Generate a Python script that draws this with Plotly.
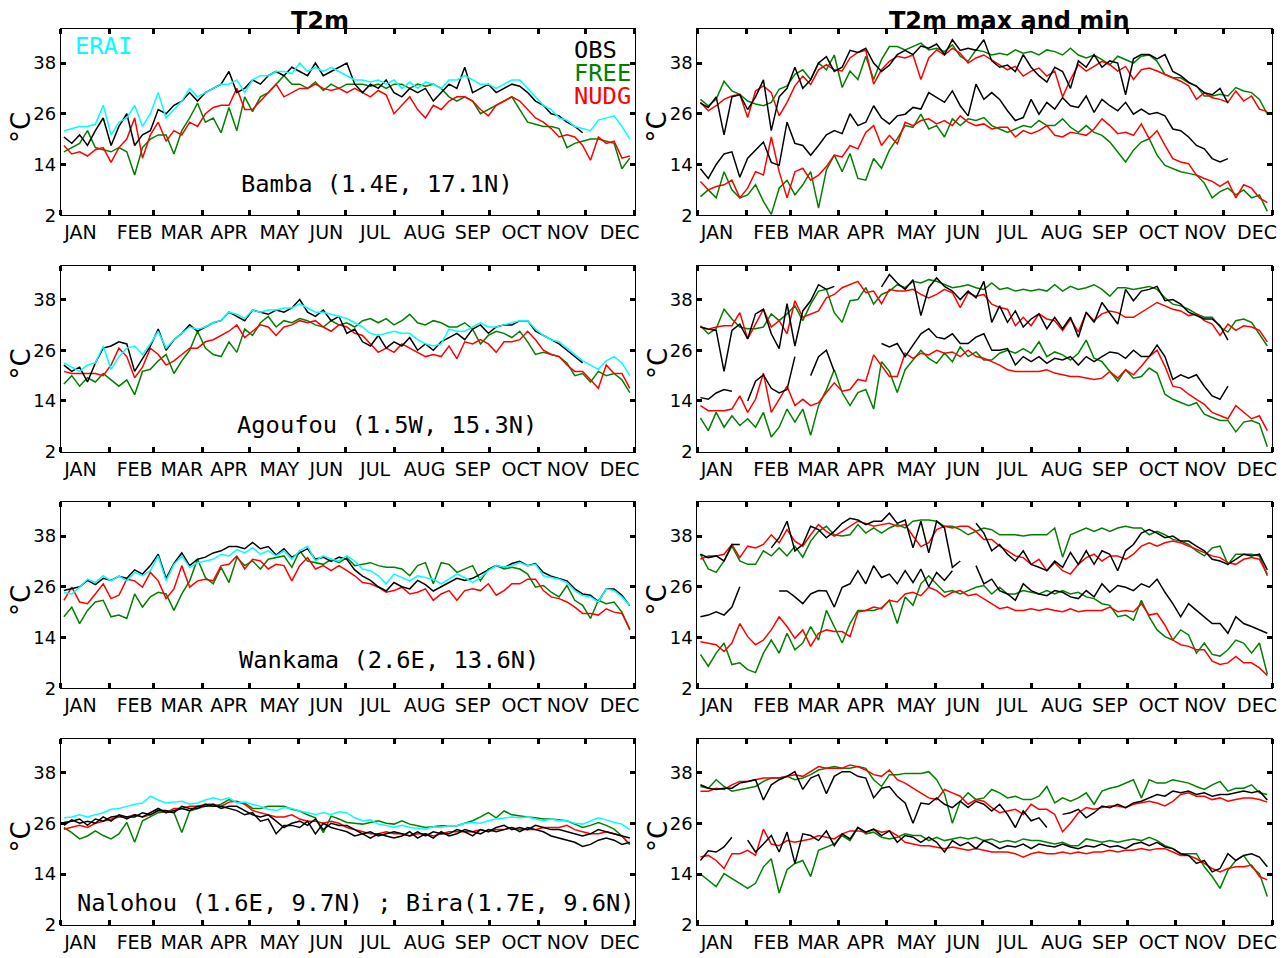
import plotly.graph_objects as go

# ---------------------------------------------------------------------------
# Daily series are stored as 5-day means (73 bins, centred on day 5k+2)
# ---------------------------------------------------------------------------
N_BINS = 73
day = [5 * k + 2 for k in range(N_BINS)]

month_edges = [0, 31, 59, 90, 120, 151, 181, 212, 243, 273, 304, 334, 365]
month_label_pos = [12.5, 47, 77, 107, 139, 169, 200, 231.5, 262, 293, 322.5, 355.5]
month_names = ["JAN", "FEB", "MAR", "APR", "MAY", "JUN",
               "JUL", "AUG", "SEP", "OCT", "NOV", "DEC"]
temp_ticks = [2, 14, 26, 38]

# ---------------- T2m daily mean ----------------
bamba_erai = [22, 22.5, 23, 23, 23.5, 28, 21, 24, 25, 28,
              23, 26, 31, 25, 27, 29, 32, 30, 31, 32,
              33, 33, 34, 31, 34, 35, 35, 36, 36, 35.5,
              38, 36, 37, 36, 37, 36, 35, 34, 34, 33.5,
              34, 33, 34, 32, 33.5, 32, 33.5, 33, 32, 34,
              34, 35, 34, 33, 33, 32, 33, 34, 34, 32,
              30, 28, 27, 25, 24.5, 23, 22.5, 22, 24.5, 25,
              25.5, 23, 20]
bamba_obs = [20.5, 19, 21, 18.5, 22, 25, 18.5, 23, 26, 18.5,
             21, 22, 27, 26, 28, 29, 31, 29, 31, 32,
             33, 36, 31, 32, 34, 33, 35, 36, 35, 37,
             36, 35, 38, 35, 36, 37, 38, 33, 31, 33,
             32, 34, 31, 30, 32, 31, 32, 29, 31, 33,
             32, 37, 31, 32, 33, 31, 32, 33, 32.5, 31,
             29, 28, 26, 25.5, 24, 23, 21.5, None, None, None,
             None, None, None]
bamba_free = [17, 18, 19, 22, 18, 17.5, 17, 18, 17, 11.5,
              18, 20, 21, 21, 16.5, 22, 25, 28.5, 24, 25,
              21.5, 27.5, 22, 30, 26.5, 30, 31, 33, 35, 33,
              33, 32, 33.5, 31.5, 33, 32, 33, 33, 33, 32.5,
              33, 32, 33, 33, 32, 33, 32.5, 33, 32, 30,
              29, 30, 29, 26, 27, 28, 29, 30, 27, 24,
              23.5, 23, 23, 22.5, 18, 19, 19.5, 20, 20, 19.5,
              19, 13, 15.5]
bamba_nudg = [18.5, 16.5, 17, 16, 17.5, 18, 14.5, 18, 20, 25,
              15.5, 21, 24, 19.5, 22, 21, 24, 23, 26, 27.5,
              28, 28, 32, 27, 27, 29, 31, 33, 30, 31,
              32, 32, 33, 32, 31.5, 32, 31, 32, 31, 30,
              31.5, 30.5, 26, 28, 30, 27, 25, 28, 27, 29,
              30, 30, 29, 27, 25.5, 28, 29, 30, 29, 27,
              25, 24, 22.5, 20.5, 21, 20.5, 18.5, 15, 20.5, 19,
              19.5, 15.5, 16]

agoufou_erai = [23, 22, 21, 22.5, 23, 27, 21.5, 24.5, 26.5, 27,
                25, 27.5, 30.5, 26.5, 28.5, 30, 31.5, 31, 31.5, 32.5,
                33, 35, 34.5, 33.5, 35.5, 35, 35.5, 35.5, 36, 36,
                37, 36, 35, 35, 34.5, 34, 33.5, 32.5, 31.5, 30,
                29.5, 30, 30.5, 30, 30, 28.5, 27.5, 27, 27.5, 31,
                30.5, 30.5, 31.5, 32.5, 31.5, 31.5, 32, 32.5, 33, 33,
                31, 29.5, 28.5, 28, 26.5, 25, 23.5, 22.5, 21.5, 23.5,
                24.5, 23, 20]
agoufou_obs = [22.5, 21, 22, 18.5, 23, 26.5, 27, 28, 27.5, 21,
               24, 27, 31, 26, 28.5, 30, 32, 30.5, 31.5, 32.5,
               33, 35, 34, 33, 35.5, 35, 34.5, 35.5, 35, 36,
               38, 35, 34, 35.5, 33, 34, 30, 31, 28, 27,
               29.5, 26.5, 28, 27, 29, 26, 27.5, 26, 28, 29,
               30, 28.5, 31, 32, 30, 31.5, 32, 32, 33, 33,
               30.5, 29.5, 28.5, 27.5, 26, 24.5, 23, None, None, None,
               None, None, None]
agoufou_free = [18, 20, 17.5, 19.5, 18.5, 20.5, 19, 17.5, 19, 15.5,
                21, 21.5, 23.5, 25, 20.5, 23.5, 26, 30.5, 26.5, 25,
                24.5, 28, 25.5, 31, 29.5, 32.5, 34, 31.5, 33, 32.5,
                33.5, 33, 32, 31.5, 33, 32, 32.5, 31.5, 33, 33.5,
                32.5, 33.5, 32, 33, 34.5, 32.5, 32, 33, 32.5, 31.5,
                31.5, 32.5, 31, 27.5, 29.5, 30.5, 30, 29, 30.5, 28,
                25, 25.5, 25, 24.5, 23, 20, 20.5, 18.5, 21, 20,
                20.5, 19, 16]
agoufou_nudg = [21, 20.5, 20.5, 20.5, 20.5, 20, 22.5, 26.5, 24.5, 19.5,
                22, 26.5, 25, 22.5, 23.5, 25, 26.5, 26.5, 28, 28.5,
                29.5, 30.5, 32, 29, 30.5, 32, 31.5, 29.5, 31.5, 32,
                33, 32.5, 33, 31.5, 30.5, 32, 31.5, 30, 29.5, 27.5,
                25.5, 26.5, 25.5, 27.5, 26.5, 25.5, 24.5, 25, 24.5, 27,
                24, 28, 27.5, 28.5, 27.5, 25.5, 28, 28, 28.5, 30.5,
                28.5, 26, 25, 24.5, 22.5, 21, 21, 19, 17, 22.5,
                20.5, 20.5, 17]

wankama_erai = [24.7, 24.3, 25.9, 27.8, 27, 28.6, 27.4, 28.6, 27.4, 29.4,
                28.6, 29.8, 33.3, 27.4, 31.3, 33.3, 30.6, 31.7, 32.1, 32.5,
                33.7, 33.3, 34.8, 34, 35.2, 33.7, 34.5, 33.3, 34.5, 32.5,
                34.5, 35.6, 32.1, 33.3, 32.5, 32.1, 33.3, 32.1, 30.2, 29.8,
                28.6, 26.7, 29, 28.2, 27.4, 28.6, 28.2, 27.8, 26.7, 27.8,
                29, 28.2, 27, 28.2, 29.8, 31, 30.6, 31, 31.7, 31,
                31.3, 28.6, 28.2, 27.8, 27, 25.1, 23.9, 23.6, 22.4, 25.5,
                25.1, 23.6, 21.6]
wankama_obs = [25.1, 25.5, 26, 27.5, 26.5, 28, 27.5, 28.5, 28, 30,
               29, 31, 33.7, 28, 31.5, 34, 31, 32.5, 33, 34,
               34.5, 35.5, 35.5, 35, 36.5, 35, 35.5, 33.5, 35, 33,
               34, 35, 32.5, 33, 32, 33, 32.5, 30, 28.5, 27.5,
               26, 25, 27, 26, 25.5, 27.5, 26.5, 25, 26, 27,
               28, 27.5, 28, 29, 30, 31, 30.5, 31.5, 32, 31,
               31.5, 29.4, 28.5, 28, 27.4, 25.5, 24.3, 24, 22.5, 25.5,
               25.5, 24, 21.5]
wankama_free = [18.9, 21.2, 17.3, 20.4, 22.4, 22.8, 18.9, 19.3, 18.5, 24.3,
                21.2, 23.6, 24.7, 24.3, 20.4, 24.3, 27.4, 32.5, 28.2, 26.7,
                30.6, 27, 32.9, 31, 32.1, 30.2, 32.5, 32.9, 33.3, 30.6,
                34.5, 32.1, 31.7, 31.3, 32.5, 31.7, 32.9, 31, 31.3, 31.7,
                31, 30.6, 30.6, 30.2, 28.6, 31, 31.7, 26.7, 31.7, 31.3,
                29.4, 30.2, 31, 27.4, 30.2, 31, 30.2, 30.6, 30.2, 29,
                25.9, 26.3, 24.7, 23.6, 26.3, 22.8, 21.6, 18.5, 22.8, 22,
                22.4, 20, 15.8]
wankama_nudg = [22.8, 25.9, 22.4, 22, 24.3, 26.7, 23.2, 24, 27.8, 27.4,
                25.9, 29.4, 27.4, 23.2, 25.5, 31, 25.9, 27.4, 27.8, 27.4,
                31, 31.3, 33.3, 30.2, 32.5, 32.1, 30.2, 31.3, 31, 27.4,
                31, 32.9, 30.2, 31, 29.8, 31, 29.8, 28.6, 27, 26.7,
                25.9, 24.7, 25.1, 25.9, 24.3, 24.7, 25.5, 22.8, 24.3, 25.1,
                22.8, 25.1, 25.5, 25.1, 26.7, 24, 25.1, 26.7, 26.7, 27.8,
                27.8, 25.1, 23.6, 23.2, 22.4, 21.2, 19.7, 19.7, 19.3, 20.8,
                20, 19.7, 16]

nalohou_erai = [27.3, 27.5, 28, 27.5, 28, 28.5, 29.3, 29.5, 30, 30.5,
                30.8, 32.4, 31.5, 30.8, 31, 31.2, 30.5, 30.8, 31.5, 32,
                31.5, 32, 30.8, 31, 30.5, 30, 29.3, 29, 29.7, 29.5,
                28.9, 28.5, 28.1, 28.5, 28.1, 28.7, 28.5, 27.3, 26.6, 26.8,
                25.8, 25.5, 25, 25.5, 25, 24.8, 24.6, 25.2, 25, 25.5,
                25.4, 26, 26.2, 26, 26.6, 27, 27.3, 27.5, 27.3, 27.5,
                27, 26.6, 27, 26.6, 26.6, 26, 25.8, 26.5, 27.3, 26.8,
                26.2, 25.8, 24.5]
nalohou_obs = [26.2, 26.5, 27, 25.5, 27, 26.5, 27.5, 27.8, 27, 28,
               27.5, 28.5, 29.5, 28.5, 29, 29.5, 29, 30, 30, 30.5,
               29.5, 30, 30, 29, 28, 27.5, 28, 26.5, 25, 26,
               26.5, 25.5, 27, 24.5, 26, 25.5, 25.5, 24.5, 23.5, 24,
               23, 23.5, 24, 23.5, 23, 24, 23, 24, 23.5, 23.5,
               24.5, 24, 23, 24.5, 24, 25, 25.5, 24.5, 25, 24.5,
               25.5, 25, 24.5, 24.5, 24, 23.5, 23, 23.5, 24.5, 24,
               23.5, 23, 22.5]
bira_obs = [25.5, 26.8, 26, 26.5, 26, 27.5, 26.5, 28, 27.5, 27.5,
            28.5, 28, 29, 29, 28.5, 30, 29.5, 29.5, 30.5, 30,
            30, 29.5, 29, 28, 28.5, 26.5, 27, 23.5, 25.5, 25.5,
            25, 26.5, 23.5, 26, 25, 24.5, 24, 23, 23.5, 22.5,
            23.5, 23, 22.5, 23, 24, 22.5, 23.5, 22.5, 24, 23,
            23.5, 24.5, 24, 23.5, 24.5, 24, 24.5, 25, 24, 25,
            24.5, 24, 23, 22.5, 22, 21.5, 20.5, 21, 22, 22.5,
            22, 21, 21.5]
nalohou_free = [25, 23.8, 22.3, 23, 24.2, 23.1, 22.3, 23.5, 26.2, 21.5,
                26.6, 27.5, 28.5, 28.8, 28.5, 23.8, 28.9, 29.5, 30, 30,
                30.5, 31.6, 31, 30.8, 29.5, 29.5, 30, 30, 30, 29.3,
                28.9, 28, 27.3, 23.8, 27.7, 27, 26.2, 26, 25.8, 26.2,
                26.6, 26, 25.8, 26.6, 25.8, 25.4, 25, 25.2, 25.4, 25.4,
                25.4, 26, 26.6, 27.5, 28.5, 27.3, 28.9, 28, 27.7, 27.5,
                27.3, 27, 27, 26.8, 26.6, 25.8, 25, 25.5, 26.2, 25.5,
                24.6, 23, 21]
nalohou_nudg = [24.6, 25, 25.5, 25, 26, 26.5, 27, 27.5, 27.5, 28,
                27.5, 28, 29, 28.5, 29.5, 29.5, 30, 30, 30.5, 30.5,
                30, 31, 31.2, 30.5, 29, 28.5, 28, 27.5, 27.5, 28,
                27, 26.5, 26.5, 26, 26.5, 26, 25, 24.5, 24, 23.5,
                23.5, 24, 23.5, 23.5, 23, 23.5, 23.5, 23, 23.5, 24,
                24, 24, 24, 24.5, 24, 24.5, 24.5, 25, 24.5, 24.5,
                24.5, 25, 25, 25, 25.5, 24.5, 24, 23.5, 23.5, 24,
                23.5, 23, 21]

# ---------------- T2m daily max / min ----------------
bamba_tmax_obs = [28.5, 27.5, 30, 21, 30, 30.5, 27, 30, 34, 22,
                  30, 32, 37, 32, 34, 38, 39.5, 36, 37, 41,
                  40.5, 41.5, 38, 36, 37.5, 40, 41, 40, 42, 41.5,
                  42.5, 40, 43.5, 41, 41.5, 41, 43.5, 38.5, 37, 37.5,
                  36, 40, 37, 35, 33.5, 37, 36, 32, 38.5, 37,
                  40, 37, 38.5, 38, 30.5, 39, 40, 40, 39, 40,
                  36, 35, 33.5, 32.5, 31, 30.5, 32, 28.5, None, None,
                  None, None, None]
bamba_tmin_obs = [13, 10.7, 14, 16.5, 17, 11, 15.5, 17.4, 19.3, 14.5,
                  13.8, 24, 19, 18.5, 16.2, 18.5, 21, 22, 21.3, 26,
                  23.2, 24, 27.9, 25, 23.6, 25.5, 25.9, 27.5, 27.1, 31,
                  29.8, 28.7, 31.4, 27.9, 25.5, 33, 29.4, 31, 29.4, 26.7,
                  24.4, 25.1, 29.4, 25.9, 28.7, 27.1, 29.8, 27.9, 27.5, 30.2,
                  26.3, 29.4, 27.9, 26.7, 28.7, 25.9, 27.1, 25.9, 26.3, 25.5,
                  22.4, 22, 20.5, 18.5, 17.7, 15.4, 14.6, 15.4, None, None,
                  None, None, None]
bamba_tmax_free = [29.4, 27.9, 29.4, 33.7, 31.4, 30.6, 29, 28.3, 27.9, 28.7,
                   31.8, 32.6, 35.3, 36.4, 34.1, 38, 36.4, 39.9, 32.2, 36.1,
                   34.1, 39.6, 34.1, 38.8, 41.9, 41.9, 41.1, 41.9, 42.7, 41.1,
                   41.5, 40.7, 42.3, 39.6, 38.4, 41.1, 40.7, 39.9, 40.3, 39.9,
                   41.1, 40.3, 40.7, 39.9, 41.1, 40.7, 39.9, 41.5, 39.9, 39.2,
                   39.9, 38.8, 37.6, 39.6, 38.8, 38, 39.6, 39.9, 38.4, 35.3,
                   34.5, 34.5, 33.3, 32.6, 30.2, 30.2, 30.6, 30.2, 32.2, 31.4,
                   31, 29.4, 25.9]
bamba_tmax_nudg = [28.7, 26.7, 27.9, 29.4, 30.2, 30.6, 25.1, 31.4, 32.6, 31,
                   25.5, 28.7, 32.6, 34.9, 32.9, 36.4, 37.6, 36.4, 36.1, 39.2,
                   40.5, 41, 33, 36.4, 38.4, 39.6, 39.2, 39.9, 34.1, 39.2,
                   41.1, 39.9, 41.5, 40.3, 38, 39.2, 39.9, 38.8, 37.6, 36.4,
                   37.2, 34.9, 36.1, 36.8, 34.9, 36.1, 30, 34.1, 37.6, 36.1,
                   37.2, 38.4, 37.6, 36.1, 37.2, 34.1, 36.4, 36.8, 36.1, 35.3,
                   34.5, 33.7, 32.6, 29.4, 31, 29.8, 29.4, 28.7, 31.4, 29,
                   30.2, 27.1, 26.5]
bamba_tmin_free = [6.4, 8, 6.1, 12.3, 8, 6.1, 6.8, 9.2, 5.3, 2.2,
                   8.4, 10.3, 6.8, 9.2, 12.3, 3.7, 12.7, 16.2, 12.3, 16.6,
                   10.7, 10.3, 15.4, 13.1, 17.4, 20.1, 23.2, 22.8, 25.9, 22.4,
                   23.2, 20.5, 24.8, 23.2, 24.8, 24.4, 25.1, 23.2, 22.4, 21.6,
                   22.4, 23.2, 22.8, 24.4, 23.2, 23.2, 24.8, 22.8, 21.6, 23.2,
                   21.6, 20.9, 19.3, 17, 14.6, 17.4, 19.3, 20.1, 16.2, 13.8,
                   13.1, 12.3, 11.9, 11.5, 9.6, 6.1, 7.6, 8.4, 6.8, 8,
                   6.1, 6.8, 2.9]
bamba_tmin_nudg = [10, 8, 8.8, 9.2, 10.3, 6.1, 8.4, 12.3, 11.5, 20.5,
                   12.3, 6.1, 12.3, 13.1, 10.3, 11.5, 13.5, 16.2, 15.8, 18.5,
                   17.7, 21.6, 23.2, 18.5, 20.9, 18.9, 24, 23.2, 24.4, 24.8,
                   23.6, 24.4, 23.2, 25.5, 24, 23.2, 23.6, 22.4, 22.8, 22.8,
                   20.5, 22, 21.3, 22, 23.2, 20.9, 20.5, 21.6, 21.3, 20.9,
                   22.4, 24.8, 23.2, 21.3, 21.6, 20.9, 23.6, 20.1, 22, 18.5,
                   15.4, 14.6, 14.2, 11.5, 10.7, 10, 8.8, 10, 6.1, 9.2,
                   8.4, 6.1, 5]

agoufou_tmax_obs = [31.5, 31, 30.7, 21, 30.7, 32.2, 28.7, 34.6, 35.7, 29.9,
                    26.4, 37, 27, 35.3, 37.7, 41.5, 40.4, 41.1, None, None,
                    None, None, None, 41, 43.9, 41.9, 40.4, 42.7, 34.2, 40.8,
                    43.1, 41.1, 40, 38, 40, 38.4, 42.3, 32.6, 36.5, 32.6,
                    35.3, 31.5, 33.4, 34.6, 31.1, 33.8, 31.1, 33.8, 29.1, 35,
                    32.6, 37.3, 34.6, 32.2, 40.4, 37.7, 40, 40.4, 41.1, 37.7,
                    38, 36.9, 35, 34.2, 33.4, 33.4, 31.8, 28.4, None, None,
                    None, None, None]
agoufou_tmin_obs = [14.8, 14.4, 15.9, 16.7, 16.3, None, 14, 18.7, 20.2, 17,
                    15.9, 16.7, 24.5, None, 20, 24.5, 26, 21, None, None,
                    None, None, None, 27.6, 26.8, 27.6, 24.5, 27.2, 29.9, 31.1,
                    29.1, 28.7, 29.9, 27.6, 27.6, 29.1, 29.9, 26, 26, 26.4,
                    22.5, 24.5, 23.3, 24.5, 22.9, 24.1, 23.7, 24.5, 22.5, 24.5,
                    23.3, 24.5, 25.6, 25.3, 24.1, 26, 24.5, 24.5, 27.2, 24.5,
                    19.1, 20.2, 19.4, 20.2, 17.5, 15.2, 14.4, 17.5, None, None,
                    None, None, None]
agoufou_tmax_free = [31.8, 29.9, 31.1, 35.7, 33.4, 31.5, 31.1, 31.1, 31.5, 34.6,
                     33, 34.6, 36.5, 33, 36.9, 40, 40.4, 34.9, 32.6, 37.7,
                     38, 40.8, 36.9, 39.2, 40, 41.5, 40.8, 42.3, 41.9, 42.7,
                     42.3, 41.5, 40.8, 41.1, 41.5, 40.8, 40.4, 41.9, 40.4, 40.8,
                     40, 40.4, 40, 40.4, 40, 41.5, 40, 41.1, 40.4, 40.8,
                     41.5, 40.4, 38.8, 40.8, 40.8, 40.4, 40.8, 41.1, 40.4, 38.4,
                     36.9, 36.5, 35.7, 34.6, 33.8, 33.8, 31.5, 30.3, 33, 33.4,
                     32.6, 29.9, 27]
agoufou_tmax_nudg = [31.5, 31, 31.5, 31.8, 31.8, 34.9, 28.7, 32.2, 35.7, 31.5,
                     33, 29.9, 37.7, 33.8, 34.6, 35.3, 38.4, 39.2, 40.8, 41.5,
                     42.3, 39.6, 40, 37, 40.4, 40, 40, 40.4, 39.2, 38.4,
                     39.2, 40.4, 39.6, 36.1, 39.6, 38.8, 39.2, 36.9, 36.1, 35.7,
                     31.8, 33.8, 31.8, 34.6, 33.4, 33, 30.7, 33.4, 30.3, 34.9,
                     33, 34.6, 35.3, 34.9, 33.8, 33.8, 34.9, 36.1, 37.3, 36.5,
                     35.7, 35.3, 34.2, 34.6, 33, 32.2, 29.5, 32.2, 30.7, 31.8,
                     31.5, 30.7, 28]
agoufou_tmin_free = [10, 7, 11.3, 7.8, 10.5, 8.2, 9.8, 7.8, 11.3, 5.5,
                     7.8, 12.1, 9, 12.1, 5.9, 12.9, 16.7, 21.4, 16, 12.9,
                     16, 16.7, 12.1, 23.3, 21, 16, 21.4, 23.7, 26, 24.1,
                     22.9, 25.3, 23.3, 26.8, 24.5, 25.6, 23.7, 23.7, 25.3, 26,
                     25.3, 26.4, 25.3, 28, 24.5, 25.6, 24.9, 23.7, 25.3, 28.4,
                     24.1, 23.3, 21, 18.7, 21.4, 19.4, 19.8, 21.8, 20.6, 15.6,
                     14.4, 13.6, 12.9, 13.6, 10.9, 10.1, 9.4, 9.4, 6.7, 9,
                     9.4, 8.6, 3.2]
agoufou_tmin_nudg = [12.9, 11.7, 11.7, 11.7, 12.1, 15.2, 11.3, 14.4, 20.6, 11.3,
                     14.4, 17.5, 12.9, 14.4, 12.9, 13.6, 16, 18.3, 16.3, 16.7,
                     19.1, 18.7, 24.9, 22.2, 19.8, 19.8, 25.3, 24.1, 25.3, 24.9,
                     26, 25.3, 25.6, 24.5, 26, 24.5, 24.1, 23.3, 22.5, 21.4,
                     21, 21, 21, 21, 21.4, 20.6, 20.2, 19.8, 19.8, 19.4,
                     19.1, 19.4, 21, 19.4, 21.4, 20.2, 22.2, 24.5, 26, 22.2,
                     17.5, 17.1, 15.6, 14.4, 13.2, 11.3, 10.5, 9.8, 12.9, 11.3,
                     9.8, 10.5, 7]

wankama_tmax_obs = [33.7, 32.9, 33.3, 32.1, 36, 36, None, None, None, 35.2,
                    37.6, 41.5, 34.5, 36, 40.3, 39.5, 37.6, 39.1, 41, 42.2,
                    41.8, 40.7, 41.5, 41.5, 43.4, 41, 41.8, 35.2, 41.5, 34,
                    41.5, 39.9, 30.6, 32.1, None, 41, 38.7, 34.5, 36, 33.7,
                    32.1, 34.5, 31.3, 30.6, 29.8, 32.1, 30.6, 34.1, 31.3, 34.5,
                    31.3, 34.5, 33.7, 29.8, 34.5, 36, 38.7, 39.5, 38.7, 37.6,
                    38, 36.8, 36.8, 35.6, 34.5, 32.5, 32.1, 31.3, 32.5, 33.7,
                    33.3, 33.7, 30]
wankama_tmin_obs = [18.9, 19.3, 20.1, 19.3, 21.2, 26, None, None, None, None,
                    25, 25, 23.6, 22, 24.3, 25.1, 25, 21.2, 25.9, 26.7,
                    29.8, 26.7, 31, 28.2, 29, 26.7, 29.8, 27, 30.2, 26,
                    29.4, 27.5, 29.8, None, None, 31, 26.7, 27.8, 25.1, 24.3,
                    22.8, 26.7, 25.1, 24.3, 23.9, 25.1, 24.7, 23.6, 23.2, 25.1,
                    23.6, 26.7, 24.7, 26.3, 25.9, 25.1, 26.7, 25.9, 27.8, 24.7,
                    22, 18.9, 22, 20.4, 18.9, 17.3, 17.3, 15, 18.9, 17.3,
                    16.6, 15.8, 15]
wankama_tmax_free = [33.7, 30.2, 29.4, 32.1, 35.6, 32.1, 31.3, 31.3, 34.5, 33.3,
                     35.2, 33.3, 35.6, 33, 36.8, 39.1, 40.3, 38.3, 38, 38.3,
                     40.7, 38.7, 39.9, 38.7, 39.9, 40.7, 39.9, 41.5, 41.8, 41.8,
                     41.5, 40.3, 40.3, 39.5, 38.3, 39.1, 39.9, 39.5, 38.3, 38.3,
                     38.3, 38, 38.3, 38.3, 38.3, 39.9, 33, 38.3, 39.1, 39.9,
                     39.1, 39.9, 39.1, 39.9, 40.3, 39.9, 39.9, 38.3, 39.1, 38.3,
                     37.2, 36.8, 36, 34.5, 33.3, 35.2, 35.6, 31.3, 33.7, 33.7,
                     33.7, 33.3, 28.6]
wankama_tmax_nudg = [32.5, 33.3, 33.3, 33.7, 36, 32.9, 35.6, 35.2, 36, 38.3,
                     36.4, 39.5, 36.8, 35.6, 38.3, 40.7, 39.1, 38, 39.1, 40.3,
                     41.5, 41, 40.3, 40.7, 41, 40.3, 40.7, 38, 35.5, 36.4,
                     39.5, 40.3, 39.9, 40.3, 40.3, 39.1, 37.2, 37.2, 35.6, 34.5,
                     33.3, 32.9, 31.3, 32.5, 29.8, 31.7, 29.8, 29, 31.3, 32.9,
                     33.7, 32.1, 33.3, 33.3, 32.5, 33.7, 35.6, 36.4, 35.6, 36.4,
                     36.8, 36.4, 35.6, 34.8, 34.1, 33.3, 32.9, 31.7, 31.3, 32.5,
                     32.9, 32.5, 29]
wankama_tmin_free = [10, 7.2, 10.3, 12.7, 7.6, 8, 6.4, 5.7, 10.3, 13.4,
                     10.3, 15, 11.1, 12.7, 16.6, 13.4, 20.4, 16.6, 12.7, 17.3,
                     20.4, 20.4, 20.4, 21, 22.8, 17.3, 23.6, 21.6, 26.7, 28.6,
                     26.7, 24.7, 25.1, 24.3, 25.1, 25.9, 26.3, 24.3, 25.9, 24.3,
                     24.3, 25.1, 24.7, 24.3, 25.1, 24.3, 25.1, 24.3, 24.7, 23.6,
                     23.2, 22, 21.6, 18.9, 19.3, 18.1, 22.8, 18.9, 15.8, 14.2,
                     13.4, 15.8, 14.6, 10.3, 12.7, 10, 9.6, 11.1, 13.4, 12.7,
                     10.3, 12.7, 5.3]
wankama_tmin_nudg = [13, 12.7, 12.3, 10.7, 12.7, 17.3, 14.2, 12.3, 13.4, 15.8,
                     18.9, 16.6, 13.8, 15.8, 11.9, 15, 15.8, 15.4, 15.4, 14.2,
                     20, 20.4, 21.2, 20.8, 22.8, 22.4, 24.3, 24.7, 23.9, 25.9,
                     25.1, 23.6, 24.7, 25.1, 23.9, 24.3, 23.2, 22, 20.8, 21.2,
                     20.4, 20.4, 20.8, 20.4, 20.8, 20.4, 20.1, 20.8, 20.1, 20.4,
                     20.4, 20.4, 21.2, 20.1, 20.4, 20.1, 22, 19.3, 19.7, 16.9,
                     13.4, 12.3, 11.9, 11.1, 11.1, 8.4, 7.6, 8, 9.5, 8,
                     8, 6.8, 5]

nalohou_tmax_obs = [35.1, 34.3, 34, 34.3, 34.3, 35.5, 35.9, 36.3, 31.5, 35.1,
                    36.3, 37.1, 38.2, 34, 36.7, 37.5, 33, 37.1, 38.2, 38.2,
                    37.1, 36.7, 32, 34.3, 34.7, 32.4, 30.8, 26, 30.8, 30.5,
                    32, 30.5, 29.7, 31.2, 29.7, 31.2, 30.5, 28.9, 30.5, 28.1,
                    25, 28.9, 26.6, 27.3, 25, None, 28.1, 28.5, 29.3, 27.3,
                    28.5, 30.1, 29.7, 30.5, 29.7, 30.8, 31.2, 32, 32.8, 32.4,
                    33.6, 33.2, 33.6, 32.8, 33.2, 32.4, 32.8, 32.8, 33.2, 33.6,
                    33.2, 33.6, 31.5]
nalohou_tmin_obs = [17.2, 19.5, 19.2, 20.4, 22.7, None, 22, 19.2, 21.1, 23.1,
                    19.2, 23.9, 16.5, 23.5, 23.1, 21.9, 24.2, 20.7, 23.5, 22.3,
                    25, 23.9, 24.6, 23.1, 24.2, 21.5, 23.1, 22.7, 21.5, 22.7,
                    21.5, 19.2, 21.9, 20.7, 21.5, 20, 21.9, 21.1, 20, 20.7,
                    20.4, 21.1, 20, 21.1, 20.7, 20.4, 21.1, 20.4, 20, 20.7,
                    20.4, 21.1, 20.4, 20.7, 20, 21.1, 21.5, 20.7, 21.5, 20.4,
                    20, 18.8, 18.4, 16.5, 17.2, 14.5, 15.3, 18.8, 17.2, 18.4,
                    18.8, 18, 15.7]
nalohou_tmax_free = [34.7, 34.3, 36.3, 34.7, 33.6, 34, 34.3, 34.7, 35.9, 36.7,
                     36.7, 37.1, 36.3, 36.7, 37.5, 38.6, 39, 39.4, 39, 39,
                     39.4, 39, 36.3, 34.7, 37.5, 37.5, 37.8, 37.8, 37.8, 38.2,
                     36.3, 33, 26, 31.2, 33.2, 31.6, 32, 34, 33.2, 32,
                     32.4, 31.6, 31.6, 32.4, 34.7, 30.8, 32, 31.2, 32, 33.2,
                     30.5, 33.6, 34.3, 34.7, 35.5, 36.3, 32, 36.3, 35.5, 35.5,
                     36.3, 35.9, 35.5, 34.7, 34, 35.1, 35.9, 33.6, 34.3, 34.3,
                     35.1, 33.2, 32.8]
nalohou_tmax_nudg = [33.6, 33.6, 34.3, 34, 35.1, 35.9, 35.9, 36.3, 36.7, 36.7,
                     36.7, 37.1, 37.5, 37.1, 38.2, 39.4, 39, 39, 39, 39.8,
                     39.4, 38.6, 37.5, 37.1, 38.6, 36.3, 35.5, 34.3, 33.2, 32,
                     31.6, 34, 33.2, 32.4, 30.5, 31.6, 31.2, 29.7, 28.5, 28.9,
                     29.3, 28.1, 30.5, 29.3, 29.3, 28.1, 24, 26, 28.5, 29.7,
                     29.3, 29.7, 30.1, 30.1, 29.7, 30.5, 30.8, 31.2, 30.8, 30.1,
                     31.2, 32.8, 33.2, 32.4, 32.4, 31.6, 32, 31.2, 31.6, 32,
                     32, 31.6, 31]
nalohou_tmin_free = [14, 12.6, 11, 14.1, 13, 11.8, 10.6, 11.8, 15.7, 17.6,
                     9.5, 15, 16.5, 17.2, 13.4, 19.6, 20.4, 21.1, 23.1, 21.9,
                     25, 23.5, 23.9, 22.7, 22.3, 22.7, 23.5, 23.1, 23.1, 21.9,
                     22.7, 21.9, 22.3, 22.7, 22.3, 22.7, 21.9, 22.3, 21.5, 21.9,
                     21.5, 22.3, 21.9, 21.9, 21.5, 21.1, 21.5, 20.7, 20.7, 22.3,
                     21.9, 21.5, 21.9, 21.5, 21.9, 22.3, 21.9, 22.7, 21.9, 20.7,
                     20, 18.8, 18.8, 18.8, 15.7, 13.4, 10.6, 14.9, 17.2, 18.4,
                     15.7, 14.1, 8.7]
nalohou_tmin_nudg = [18, 18.4, 17.2, 15.3, 18.8, 18.8, 19.6, 18.4, 24.6, 21.1,
                     20.7, 21.9, 21.5, 21.9, 22.3, 23.1, 22.7, 22.3, 23.5, 24.2,
                     24.2, 23.9, 24.6, 23.9, 24.2, 23.1, 21.5, 21.1, 20.7, 20.7,
                     20.4, 20, 20.4, 20, 19.6, 20, 19.6, 19.2, 19.2, 19.2,
                     18.8, 18, 18.8, 19.2, 18.8, 18.8, 19.2, 18.8, 19.2, 18.8,
                     19.2, 19.2, 19.6, 19.2, 19.6, 19.6, 20, 19.6, 20, 20,
                     19.2, 18.4, 18.4, 17.6, 16.5, 15.3, 14.5, 15.3, 15.7, 15.7,
                     16.1, 13.4, 12.6]

# ---------------------------------------------------------------------------
C_OBS, C_FREE, C_NUDG, C_ERAI = "#000000", "#008000", "#ff0000", "#00ffff"

left_panels = [
    [(bamba_free, C_FREE), (bamba_nudg, C_NUDG), (bamba_obs, C_OBS), (bamba_erai, C_ERAI)],
    [(agoufou_free, C_FREE), (agoufou_nudg, C_NUDG), (agoufou_obs, C_OBS), (agoufou_erai, C_ERAI)],
    [(wankama_free, C_FREE), (wankama_nudg, C_NUDG), (wankama_obs, C_OBS), (wankama_erai, C_ERAI)],
    [(nalohou_free, C_FREE), (nalohou_nudg, C_NUDG), (nalohou_erai, C_ERAI),
     (nalohou_obs, C_OBS), (bira_obs, C_OBS)],
]
right_panels = [
    [(bamba_tmax_free, C_FREE), (bamba_tmin_free, C_FREE), (bamba_tmax_nudg, C_NUDG),
     (bamba_tmin_nudg, C_NUDG), (bamba_tmax_obs, C_OBS), (bamba_tmin_obs, C_OBS)],
    [(agoufou_tmax_free, C_FREE), (agoufou_tmin_free, C_FREE), (agoufou_tmax_nudg, C_NUDG),
     (agoufou_tmin_nudg, C_NUDG), (agoufou_tmax_obs, C_OBS), (agoufou_tmin_obs, C_OBS)],
    [(wankama_tmax_free, C_FREE), (wankama_tmin_free, C_FREE), (wankama_tmax_nudg, C_NUDG),
     (wankama_tmin_nudg, C_NUDG), (wankama_tmax_obs, C_OBS), (wankama_tmin_obs, C_OBS)],
    [(nalohou_tmax_free, C_FREE), (nalohou_tmin_free, C_FREE), (nalohou_tmax_nudg, C_NUDG),
     (nalohou_tmin_nudg, C_NUDG), (nalohou_tmax_obs, C_OBS), (nalohou_tmin_obs, C_OBS)],
]

W, H = 1285, 958
col_px = [(61, 637), (700, 1277)]
row_px = [(29.5, 217.5), (268.5, 456.5), (507.5, 695.5), (746.5, 934.5)]

TICK_FONT = "DejaVu Sans"
MONO_FONT = "DejaVu Sans Mono"

fig = go.Figure()
layout_axes = {}
annotations = []


def note(text, xpx, ypx, size, color="black", family=TICK_FONT, xanchor="center", angle=0):
    """Paper-space text placed by pixel position (anchored at its vertical middle)."""
    return dict(x=xpx / W, y=1 - ypx / H, xref="paper", yref="paper",
                text=text, showarrow=False, xanchor=xanchor, yanchor="middle",
                textangle=angle, font=dict(family=family, size=size, color=color))


for r in range(4):
    for c in range(2):
        idx = r * 2 + c + 1
        xname = "x" if idx == 1 else f"x{idx}"
        yname = "y" if idx == 1 else f"y{idx}"
        series = left_panels[r] if c == 0 else right_panels[r]
        for vals, color in series:
            assert len(vals) == N_BINS
            fig.add_trace(go.Scatter(
                x=day, y=vals, mode="lines",
                line=dict(color=color, width=1.5),
                xaxis=xname, yaxis=yname,
                showlegend=False, hoverinfo="skip", connectgaps=False))

        x0, x1 = col_px[c]
        top, bot = row_px[r]
        layout_axes["xaxis" if idx == 1 else f"xaxis{idx}"] = dict(
            domain=[x0 / W, x1 / W], anchor=yname, range=[0, 365],
            tickmode="array", tickvals=month_label_pos, ticktext=month_names,
            ticks="", showline=True, linecolor="black", linewidth=1,
            mirror="ticks", showgrid=False, zeroline=False,
            tickfont=dict(family=TICK_FONT, size=19, color="black"),
            minor=dict(tickmode="array", tickvals=month_edges, ticks="inside",
                       ticklen=5, tickwidth=3, tickcolor="black", showgrid=False),
            fixedrange=True,
        )
        layout_axes["yaxis" if idx == 1 else f"yaxis{idx}"] = dict(
            domain=[1 - bot / H, 1 - top / H], anchor=xname, range=[2, 46],
            tickmode="array", tickvals=temp_ticks, ticks="inside",
            ticklen=5, tickwidth=3, tickcolor="black",
            showline=True, linecolor="black", linewidth=1, mirror="ticks",
            showgrid=False, zeroline=False,
            tickfont=dict(family=TICK_FONT, size=18, color="black"),
            fixedrange=True,
        )
        # y-axis unit label
        annotations.append(note("°C", x0 - 40, (top + bot) / 2 + 5, 26, angle=-90))

# column titles
annotations.append(note("<b>T2m</b>", 321, 21, 24))
annotations.append(note("<b>T2m max and min</b>", 1013, 21, 24))

# series key
MONO_SIZE = 23.75
annotations.append(note("ERAI", 73, 46, MONO_SIZE, C_ERAI, MONO_FONT, "left"))
for label, color, ypx in [("OBS", C_OBS, 51), ("FREE", C_FREE, 73.5), ("NUDG", C_NUDG, 97.5)]:
    annotations.append(note(label, 574, ypx, MONO_SIZE, color, MONO_FONT, "left"))

# station names
stations = [("Bamba (1.4E, 17.1N)", 240, 186),
            ("Agoufou (1.5W, 15.3N)", 236, 429),
            ("Wankama (2.6E, 13.6N)", 238, 667),
            ("Nalohou (1.6E, 9.7N) ; Bira(1.7E, 9.6N)", 75, 913)]
for text, xpx, ypx in stations:
    annotations.append(note(text, xpx, ypx, MONO_SIZE, "black", MONO_FONT, "left"))

fig.update_layout(
    width=W, height=H,
    margin=dict(l=0, r=0, t=0, b=0),
    paper_bgcolor="white", plot_bgcolor="white",
    showlegend=False,
    annotations=annotations,
    **layout_axes,
)

fig.write_html("out.html")
